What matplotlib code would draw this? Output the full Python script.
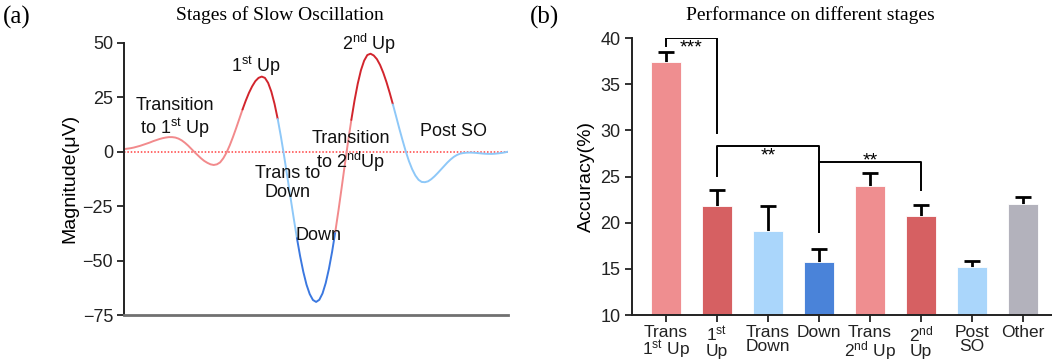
import numpy as np
import matplotlib.pyplot as plt

plt.rcParams['font.family'] = ['Liberation Sans', 'DejaVu Sans']
plt.rcParams['mathtext.fontset'] = 'custom'
plt.rcParams['mathtext.rm'] = 'Liberation Sans'
plt.rcParams['mathtext.it'] = 'Liberation Sans'

# grand-average slow oscillation waveform (uV), sampled every 25 ms from -1.5 s to 1.5 s
so_time = np.round(np.arange(-1.5, 1.5001, 0.025), 3)
so_uv = [1.2, 1.4, 1.6, 1.9, 2.3, 2.7, 3.2, 3.7, 4.2, 4.8,
         5.3, 5.8, 6.2, 6.5, 6.7, 6.7, 6.5, 6.0, 5.2, 4.1,
         2.8, 1.3, -0.2, -1.6, -3.0, -4.2, -5.1, -5.8, -6.1, -5.8,
         -4.9, -3.0, -0.4, 2.9, 6.7, 10.8, 15.1, 19.4, 23.4, 27.0,
         30.0, 32.4, 33.9, 34.5, 33.9, 31.6, 27.6, 22.0, 15.0, 6.9,
         -2.0, -11.5, -21.1, -30.6, -39.7, -48.0, -55.2, -61.1, -65.4, -68.1,
         -69.0, -68.0, -65.1, -60.3, -53.8, -45.9, -36.7, -26.8, -16.3, -5.6,
         4.8, 14.6, 23.5, 31.2, 37.4, 41.8, 44.4, 45.0, 44.2, 42.5,
         39.8, 36.2, 31.9, 27.0, 21.7, 16.2, 10.6, 5.3, 0.2, -4.3,
         -8.0, -10.9, -12.9, -13.9, -14.0, -13.6, -12.6, -11.3, -9.8, -8.2,
         -6.6, -5.0, -3.6, -2.4, -1.5, -0.9, -0.6, -0.45, -0.4, -0.45,
         -0.55, -0.7, -0.85, -0.95, -1.0, -1.0, -0.9, -0.75, -0.55, -0.3,
         0.0]

# stage boundaries along the waveform (s) and their colours
stage_edges = [-1.5, -0.575, -0.3, -0.15, 0.15, 0.275, 0.6, 1.5]
stage_colors = ['#f28a8c', '#d2252d', '#8ec8f8', '#3b78e0', '#f28a8c', '#d2252d', '#8ec8f8']

# decoding accuracy per stage (mean, upper SEM)
stages = ['Trans\n1$^{\\rm st}$ Up', '1$^{\\rm st}$\nUp', 'Trans\nDown', 'Down',
          'Trans\n2$^{\\rm nd}$ Up', '2$^{\\rm nd}$\nUp', 'Post\nSO', 'Other']
accuracy = [37.4, 21.8, 19.1, 15.7, 24.0, 20.7, 15.25, 22.05]
acc_sem = [1.15, 1.7, 2.7, 1.5, 1.35, 1.2, 0.65, 0.7]
bar_colors = ['#ef8e90', '#d66062', '#aad6fb', '#4a83d9',
              '#ef8e90', '#d66062', '#aad6fb', '#b3b2bc']

fig = plt.figure(figsize=(10.52, 3.6), dpi=100)

# ---- (a) waveform ----
ax1 = fig.add_axes([0.118, 0.125, 0.365, 0.756])
t = np.array(so_time)
v = np.array(so_uv)
for lo, hi, c in zip(stage_edges[:-1], stage_edges[1:], stage_colors):
    m = (t >= lo - 1e-9) & (t <= hi + 1e-9)
    ax1.plot(t[m], v[m], color=c, lw=1.4, solid_capstyle='round')
ax1.axhline(0, color='#ff4040', lw=1.1, ls=(0, (1, 1.2)), zorder=0)
ax1.set_xlim(-1.5, 1.5)
ax1.set_ylim(-75, 50)
ax1.set_yticks([50, 25, 0, -25, -50, -75])
ax1.set_xticks([])
for s in ['top', 'right']:
    ax1.spines[s].set_visible(False)
ax1.spines['left'].set_linewidth(1.4)
ax1.spines['left'].set_color('#222222')
ax1.spines['bottom'].set_linewidth(2)
ax1.spines['bottom'].set_color('#707070')
ax1.tick_params(axis='y', labelsize=13, length=5, width=1.3, colors='#222222', pad=3)
ax1.set_ylabel('Magnitude(μV)', fontsize=14, labelpad=3)

ann = dict(fontsize=13, ha='center', va='center', color='#111111', linespacing=1.15)
ax1.text(-1.10, 15.3, 'Transition\nto 1$^{\\rm st}$ Up', **ann)
ax1.text(-0.47, 39.4, '1$^{\\rm st}$ Up', **ann)
ax1.text(0.41, 49.4, '2$^{\\rm nd}$ Up', **ann)
ax1.text(0.27, 0.0, 'Transition\nto 2$^{\\rm nd}$Up', **ann)
ax1.text(-0.22, -14.2, 'Trans to\nDown', **ann)
ax1.text(0.02, -38.6, 'Down', **ann)
ax1.text(1.07, 9.2, 'Post SO', **ann)

fig.text(0.266, 0.958, 'Stages of Slow Oscillation', fontsize=14,
         family='Liberation Serif', ha='center', va='center')
fig.text(0.003, 0.952, '(a)', fontsize=18, family='Liberation Serif', va='center')

# ---- (b) accuracy bars ----
ax2 = fig.add_axes([0.6005, 0.125, 0.3995, 0.769])
x = np.arange(len(stages))
ax2.bar(x, accuracy, width=0.6, color=bar_colors, edgecolor='white', linewidth=0.6, zorder=2)
_, caps, _ = ax2.errorbar(x, accuracy, yerr=[np.zeros(len(x)), acc_sem], fmt='none',
                          ecolor='black', elinewidth=2, capsize=6, capthick=2, zorder=1)
caps[0].set_visible(False)  # only the upper half is shown
ax2.set_xlim(-0.67, 7.57)
ax2.set_ylim(10, 40)
ax2.set_yticks([10, 15, 20, 25, 30, 35, 40])
ax2.set_xticks(x)
ax2.set_xticklabels(stages, fontsize=12.5, linespacing=0.95, va='top')
for s in ['top', 'right']:
    ax2.spines[s].set_visible(False)
for s in ['left', 'bottom']:
    ax2.spines[s].set_linewidth(1.4)
    ax2.spines[s].set_color('#222222')
ax2.tick_params(axis='y', labelsize=13, length=5, width=1.3, colors='#222222', pad=3)
ax2.tick_params(axis='x', length=5, width=1.3, colors='#222222', pad=2)
ax2.set_ylabel('Accuracy(%)', fontsize=14, labelpad=4)


def bracket(x0, x1, y, y0, y1, label, ty):
    ax2.plot([x0, x0, x1, x1], [y0, y, y, y1], color='black', lw=1.4, zorder=4)
    ax2.text((x0 + x1) / 2, ty, label, ha='center', va='center', fontsize=14)


bracket(0, 1, 40.0, 39.1, 29.7, '***', 38.9)
bracket(1, 3, 28.35, 25.1, 19.0, '**', 27.2)
bracket(3, 5, 26.55, 19.0, 23.55, '**', 26.7)

fig.text(0.770, 0.958, 'Performance on different stages', fontsize=14,
         family='Liberation Serif', ha='center', va='center')
fig.text(0.504, 0.952, '(b)', fontsize=18, family='Liberation Serif', va='center')

fig.savefig('out.png', dpi=100)
